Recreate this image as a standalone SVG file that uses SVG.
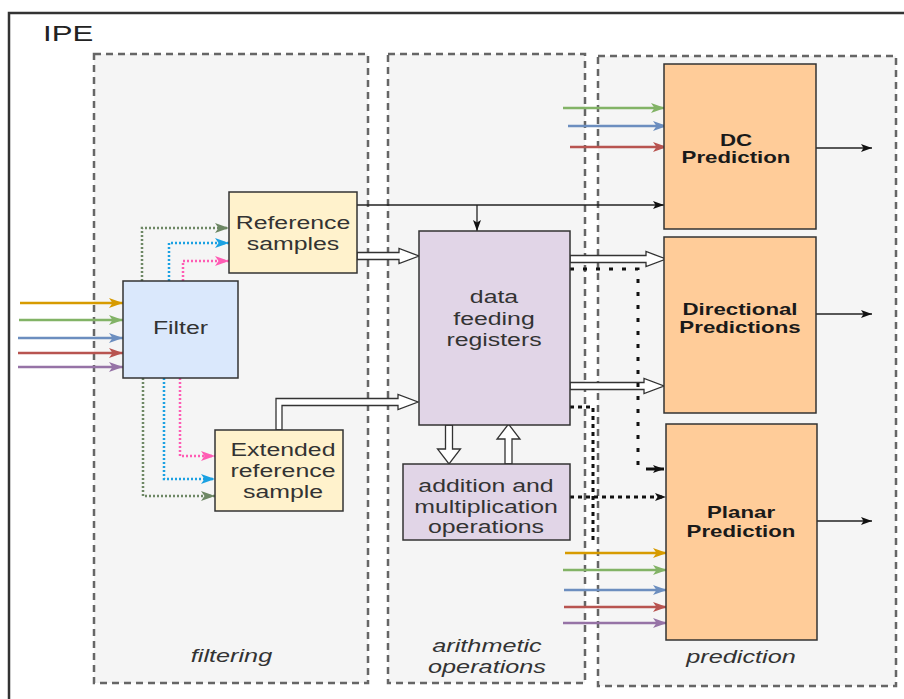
<svg xmlns="http://www.w3.org/2000/svg" width="904" height="699" viewBox="0 0 904 699">
  <style>
    .cont{fill:#f5f5f5;stroke:#666;stroke-width:2.5;stroke-dasharray:7 5}
    .node{stroke:#333;stroke-width:1.5}
    .t{font-family:"Liberation Sans",Arial,Helvetica,sans-serif;font-size:17.5px;fill:#333;text-anchor:middle}
    .b{font-weight:bold;font-size:15.7px;fill:#1a1a1a}
    .i{font-style:italic;font-size:17.8px}
    .in{fill:none;stroke-width:2.5}
    .dot{fill:none;stroke-width:2.5;stroke-dasharray:2 2}
    .blk{fill:none;stroke:#222;stroke-width:1.3}
    .bd{fill:none;stroke:#111;stroke-width:3}
    .hollow{fill:#fff;stroke:#333;stroke-width:1.3;stroke-linejoin:miter}
  </style>
  <defs>
    <marker id="m-black" markerUnits="userSpaceOnUse" markerWidth="11" markerHeight="8" refX="11" refY="4" orient="auto">
      <path d="M0,0 L11,4 L0,8 L2.5,4 Z" fill="#111"/>
    </marker>
    <marker id="m-gold" markerUnits="userSpaceOnUse" markerWidth="14" markerHeight="10" refX="14" refY="5" orient="auto">
      <path d="M0,0 L14,5 L0,10 L3.5,5 Z" fill="#d79b00"/>
    </marker>
    <marker id="m-green" markerUnits="userSpaceOnUse" markerWidth="14" markerHeight="10" refX="14" refY="5" orient="auto">
      <path d="M0,0 L14,5 L0,10 L3.5,5 Z" fill="#82b366"/>
    </marker>
    <marker id="m-blue" markerUnits="userSpaceOnUse" markerWidth="14" markerHeight="10" refX="14" refY="5" orient="auto">
      <path d="M0,0 L14,5 L0,10 L3.5,5 Z" fill="#6c8ebf"/>
    </marker>
    <marker id="m-red" markerUnits="userSpaceOnUse" markerWidth="14" markerHeight="10" refX="14" refY="5" orient="auto">
      <path d="M0,0 L14,5 L0,10 L3.5,5 Z" fill="#b85450"/>
    </marker>
    <marker id="m-purple" markerUnits="userSpaceOnUse" markerWidth="14" markerHeight="10" refX="14" refY="5" orient="auto">
      <path d="M0,0 L14,5 L0,10 L3.5,5 Z" fill="#9673a6"/>
    </marker>
    <marker id="m-sage" markerUnits="userSpaceOnUse" markerWidth="14" markerHeight="10" refX="14" refY="5" orient="auto">
      <path d="M0,0 L14,5 L0,10 L3.5,5 Z" fill="#6d8764"/>
    </marker>
    <marker id="m-cyan" markerUnits="userSpaceOnUse" markerWidth="14" markerHeight="10" refX="14" refY="5" orient="auto">
      <path d="M0,0 L14,5 L0,10 L3.5,5 Z" fill="#1ba1e2"/>
    </marker>
    <marker id="m-pink" markerUnits="userSpaceOnUse" markerWidth="14" markerHeight="10" refX="14" refY="5" orient="auto">
      <path d="M0,0 L14,5 L0,10 L3.5,5 Z" fill="#ff5cb4"/>
    </marker>
  </defs>

  <rect width="904" height="699" fill="#fff"/>

  <!-- outer IPE frame -->
  <g id="ipe">
    <rect x="9" y="13" width="930" height="730" fill="#fff" stroke="#333" stroke-width="2.5"/>
    <text class="t" transform="matrix(1.42 0 0 1 43 41)" style="font-size:22px;text-anchor:start;fill:#222">IPE</text>
  </g>

  <!-- stage containers -->
  <g id="filtering">
    <rect class="cont" x="94" y="54" width="274" height="629"/>
    <text class="t i" transform="matrix(1.42 0 0 1 231.5 0)" y="662">filtering</text>
  </g>
  <g id="arithmetic">
    <rect class="cont" x="388" y="54" width="197" height="629"/>
    <text class="t i" transform="matrix(1.42 0 0 1 487 0)"><tspan x="0" y="652">arithmetic</tspan><tspan x="0" y="673">operations</tspan></text>
  </g>
  <g id="prediction">
    <rect class="cont" x="598" y="56" width="298" height="630"/>
    <text class="t i" transform="matrix(1.42 0 0 1 741 0)" y="663">prediction</text>
  </g>

  <!-- connectors -->
  <g id="connectors">
    <!-- colour-coded inputs to Filter -->
    <path class="in" d="M20,303 H123" stroke="#d79b00" marker-end="url(#m-gold)"/>
    <path class="in" d="M19,320 H123" stroke="#82b366" marker-end="url(#m-green)"/>
    <path class="in" d="M18,338 H123" stroke="#6c8ebf" marker-end="url(#m-blue)"/>
    <path class="in" d="M18,353 H123" stroke="#b85450" marker-end="url(#m-red)"/>
    <path class="in" d="M18,367 H123" stroke="#9673a6" marker-end="url(#m-purple)"/>

    <!-- Filter to Reference samples -->
    <path class="dot" d="M142,281 V228 H229" stroke="#6d8764" marker-end="url(#m-sage)"/>
    <path class="dot" d="M169,281 V243 H229" stroke="#1ba1e2" marker-end="url(#m-cyan)"/>
    <path class="dot" d="M183,281 V261 H229" stroke="#ff5cb4" marker-end="url(#m-pink)"/>

    <!-- Filter to Extended reference sample -->
    <path class="dot" d="M143,378 V496 H215" stroke="#6d8764" stroke-width="3.5" marker-end="url(#m-sage)"/>
    <path class="dot" d="M164,378 V479 H215" stroke="#1ba1e2" marker-end="url(#m-cyan)"/>
    <path class="dot" d="M180,378 V456 H215" stroke="#ff5cb4" marker-end="url(#m-pink)"/>

    <!-- Reference samples to DC Prediction and registers -->
    <path class="blk" d="M357,205 H664" marker-end="url(#m-black)"/>
    <path class="blk" d="M477,205 V231" marker-end="url(#m-black)"/>

    <!-- wide (hollow) data buses -->
    <path class="hollow" d="M357,252.5 H399 V248.5 L419,256 L399,263.5 V259.5 H357 Z"/>
    <path class="hollow" d="M276,430 V398.5 H398 V394.5 L418,402 L398,409.5 V405.5 H282 V430 Z"/>
    <path class="hollow" d="M570,255.5 H646 V251.5 L666,259 L646,266.5 V262.5 H570 Z"/>
    <path class="hollow" d="M570,382.5 H644 V378.5 L664,386 L644,393.5 V389.5 H570 Z"/>
    <path class="hollow" d="M445.5,425 V449 H437.5 L449,464 L460.5,449 H452.5 V425 Z"/>
    <path class="hollow" d="M505,464 V439 H497 L508.5,424 L520,439 H512 V464 Z"/>

    <!-- register / arithmetic side paths into Planar Prediction -->
    <path class="bd" d="M570,269 H638 V469" stroke-dasharray="4 9"/>
    <path class="bd" d="M646,469 H664" stroke-width="2" marker-end="url(#m-black)"/>
    <path class="bd" d="M570,497 H666" stroke-dasharray="4 4" marker-end="url(#m-black)"/>
    <path class="bd" d="M570,407 H593 V540" stroke-dasharray="4 4"/>

    <!-- colour-coded inputs to DC Prediction -->
    <path class="in" d="M563,108 H665" stroke="#82b366" marker-end="url(#m-green)"/>
    <path class="in" d="M568,126 H667" stroke="#6c8ebf" marker-end="url(#m-blue)"/>
    <path class="in" d="M570,147 H667" stroke="#b85450" marker-end="url(#m-red)"/>

    <!-- colour-coded inputs to Planar Prediction -->
    <path class="in" d="M565,553 H667" stroke="#d79b00" marker-end="url(#m-gold)"/>
    <path class="in" d="M563,570 H667" stroke="#82b366" marker-end="url(#m-green)"/>
    <path class="in" d="M564,590 H667" stroke="#6c8ebf" marker-end="url(#m-blue)"/>
    <path class="in" d="M564,607 H667" stroke="#b85450" marker-end="url(#m-red)"/>
    <path class="in" d="M563,623 H667" stroke="#9673a6" marker-end="url(#m-purple)"/>

    <!-- outputs -->
    <path class="blk" d="M816,148 H872" marker-end="url(#m-black)"/>
    <path class="blk" d="M816,314 H872" marker-end="url(#m-black)"/>
    <path class="blk" d="M817,521 H872" marker-end="url(#m-black)"/>
  </g>

  <!-- nodes -->
  <g id="filter">
    <rect class="node" x="123" y="281" width="115" height="97" fill="#dae8fc"/>
    <text class="t" transform="matrix(1.42 0 0 1 180.5 0)" y="334">Filter</text>
  </g>
  <g id="reference-samples">
    <rect class="node" x="229" y="192" width="128" height="81" fill="#fff2cc"/>
    <text class="t" transform="matrix(1.42 0 0 1 293 0)"><tspan x="0" y="229">Reference</tspan><tspan x="0" y="250">samples</tspan></text>
  </g>
  <g id="extended-reference-sample">
    <rect class="node" x="215" y="430" width="128" height="81" fill="#fff2cc"/>
    <text class="t" transform="matrix(1.42 0 0 1 283 0)"><tspan x="0" y="456">Extended</tspan><tspan x="0" y="477">reference</tspan><tspan x="0" y="498">sample</tspan></text>
  </g>
  <g id="data-feeding-registers">
    <rect class="node" x="419" y="231" width="151" height="194" fill="#e1d5e7"/>
    <text class="t" transform="matrix(1.42 0 0 1 494 0)"><tspan x="0" y="303">data</tspan><tspan x="0" y="325">feeding</tspan><tspan x="0" y="346">registers</tspan></text>
  </g>
  <g id="addition-multiplication">
    <rect class="node" x="403" y="464" width="167" height="76" fill="#e1d5e7"/>
    <text class="t" transform="matrix(1.42 0 0 1 486 0)"><tspan x="0" y="492">addition and</tspan><tspan x="0" y="513">multiplication</tspan><tspan x="0" y="533">operations</tspan></text>
  </g>
  <g id="dc-prediction">
    <rect class="node" x="664" y="64" width="152" height="165" fill="#ffcc99"/>
    <text class="t b" transform="matrix(1.42 0 0 1 736 0)"><tspan x="0" y="146">DC</tspan><tspan x="0" y="163">Prediction</tspan></text>
  </g>
  <g id="directional-predictions">
    <rect class="node" x="664" y="237" width="152" height="176" fill="#ffcc99"/>
    <text class="t b" transform="matrix(1.42 0 0 1 740 0)"><tspan x="0" y="315">Directional</tspan><tspan x="0" y="333">Predictions</tspan></text>
  </g>
  <g id="planar-prediction">
    <rect class="node" x="666" y="424" width="151" height="216" fill="#ffcc99"/>
    <text class="t b" transform="matrix(1.42 0 0 1 741 0)"><tspan x="0" y="518">Planar</tspan><tspan x="0" y="537">Prediction</tspan></text>
  </g>
</svg>
